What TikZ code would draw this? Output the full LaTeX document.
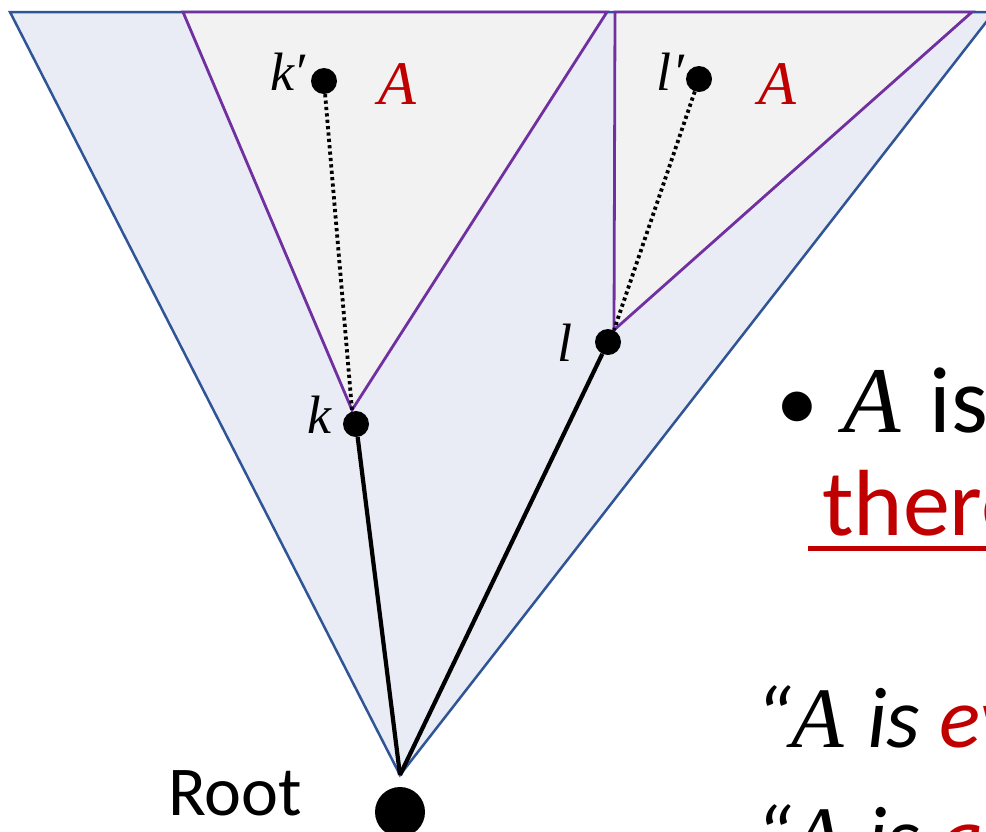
\documentclass[tikz,border=0pt]{standalone}
\usepackage{fontspec}
\setmainfont{Carlito}
\newfontfamily\mathfont{Liberation Serif}
\usetikzlibrary{positioning}
\definecolor{treeblue}{HTML}{2F5597}
\definecolor{softtree}{HTML}{E9EBF5}
\definecolor{subpurple}{HTML}{7030A0}
\definecolor{softgray}{HTML}{F2F2F2}
\definecolor{darkred}{HTML}{C00000}
\tikzset{
  tree/.style={draw=treeblue, fill=softtree, line width=2.5pt},
  subtree/.style={draw=subpurple, fill=softgray, line width=2.8pt},
  vertex/.style={circle, fill=black, inner sep=0pt, minimum size=26pt},
  branch/.style={draw=black, line width=4.2pt},
  reach/.style={draw=black, line width=3.8pt, dash pattern=on 3.2pt off 3.2pt},
  varlbl/.style={font=\mathfont\itshape\fontsize{54}{60}\selectfont, inner sep=0pt, anchor=base east},
  proplbl/.style={text=darkred, font=\mathfont\itshape\fontsize{62}{70}\selectfont, inner sep=0pt, anchor=base},
  bigtxt/.style={font=\fontsize{94}{100}\selectfont, inner sep=0pt, anchor=base west},
  quotetxt/.style={font=\itshape\fontsize{86}{96}\selectfont, inner sep=0pt, anchor=base west},
  ulined/.style={draw=darkred, line width=5pt}
}
\begin{document}
\begin{tikzpicture}[x=1pt, y=-1pt]
  \useasboundingbox (0,0) rectangle (986,831);
  \clip (0,0) rectangle (986,831);

  % apexes of the tree and the two subtrees
  \coordinate (rootapex) at (400,775);
  \coordinate (kapex) at (352,410);
  \coordinate (lapex) at (614,330);

  \filldraw[tree] (10,12) -- (994,12) -- (rootapex) -- cycle;
  \filldraw[subtree] (183,12) -- (607,12) -- (kapex) -- cycle;
  \filldraw[subtree] (615,12) -- (972,12) -- (lapex) -- cycle;

  % states
  \node[vertex] (k) at (356,424) {};
  \node[vertex] (l) at (608,342) {};
  \node[vertex] (kp) at (324,81) {};
  \node[vertex] (lp) at (699,79) {};
  \node[vertex, minimum size=50pt] (root) at (400,812) {};

  \draw[branch] (k) -- (rootapex);
  \draw[branch] (l) -- (rootapex);
  \draw[reach] (kp) -- (kapex);
  \draw[reach] (lp) -- (lapex);

  \node[varlbl] (klbl) at (332,433) {k};
  \node[varlbl] (llbl) at (573,361) {l};
  \node[varlbl] (kplbl) at (306,90) {k′};
  \node[varlbl] (lplbl) at (684,90) {l′};
  \node[proplbl] (aleft) at (397,104) {A};
  \node[proplbl] (aright) at (777,104) {A};

  \node[font=\fontsize{70}{80}\selectfont, inner sep=0pt, anchor=base west] (rootlbl) at (168,815) {Root};

  % text on the right
  \node[bigtxt, font=\fontsize{84}{90}\selectfont] (bullet) at (776,430) {•};
  \node[bigtxt] (ais) at (843,432) {{\mathfont\itshape A}\hspace{8pt} is};
  \node[bigtxt, text=darkred] (ther) at (822,535) {there};
  \draw[ulined] ([shift={(-14pt,-13pt)}]ther.base west) -- ([yshift=-13pt]ther.base east);
  \node[quotetxt] (evq) at (755,747) {“{\mathfont A}\hspace{4pt} is \textcolor{darkred}{eventually}};
  \node[quotetxt] (alq) at (755,866) {“{\mathfont A}\hspace{4pt} is \textcolor{darkred}{always}};
\end{tikzpicture}
\end{document}
